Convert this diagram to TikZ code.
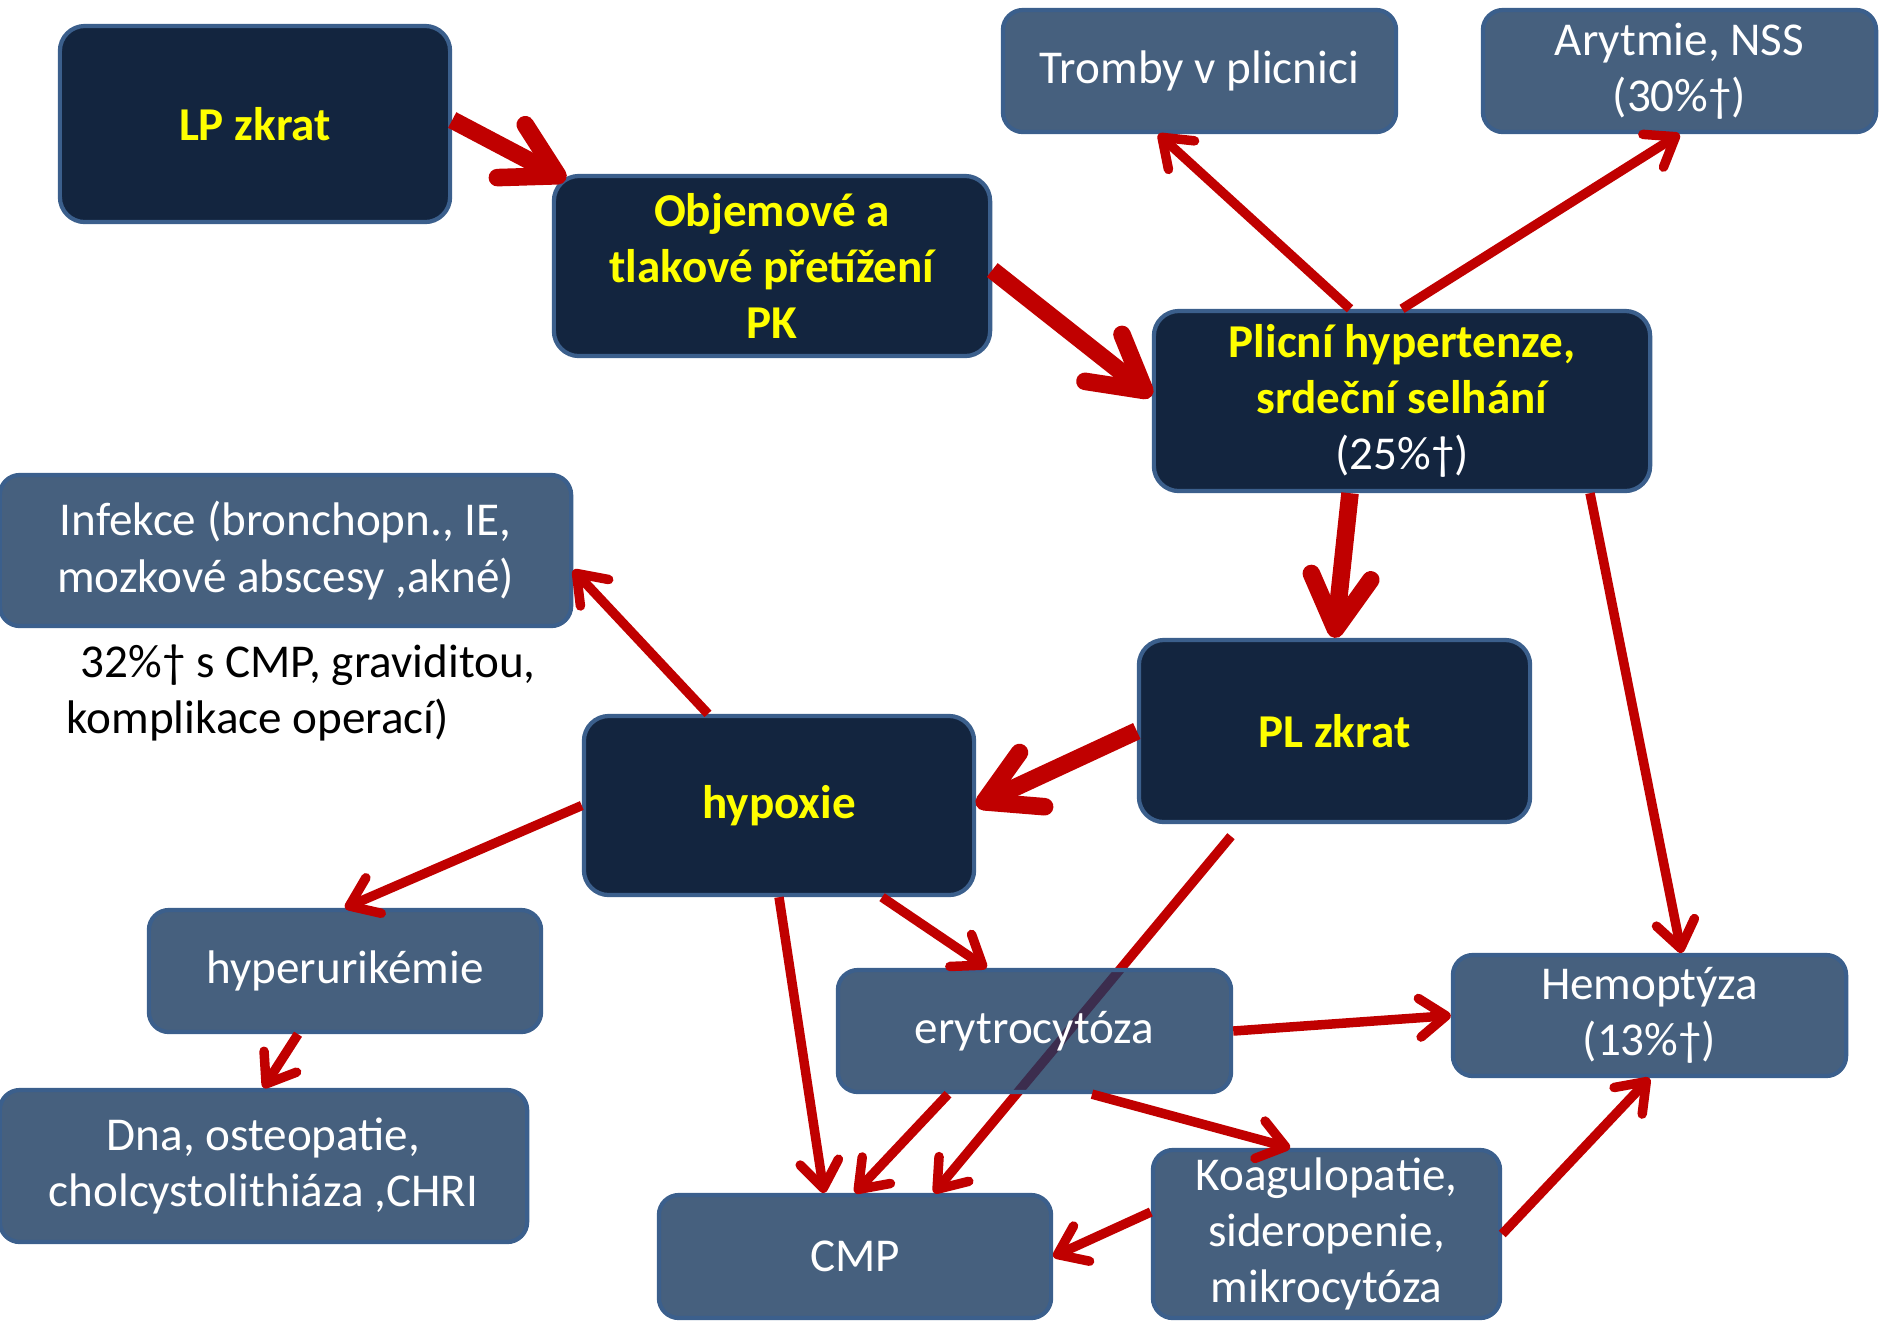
\documentclass[tikz,border=0pt]{standalone}
\usepackage{fontspec}
\setmainfont{Carlito}
\usetikzlibrary{arrows.meta,calc,positioning}

\definecolor{navybox}{HTML}{13253F}
\definecolor{slatebox}{HTML}{46607E}
\definecolor{boxedge}{HTML}{3B5F8C}
\definecolor{arrred}{HTML}{C00000}
\definecolor{crossshade}{HTML}{3C2D4E}
\definecolor{labelyellow}{HTML}{FFFF00}

\begin{document}
\begin{tikzpicture}[x=0.01cm,y=-0.01cm,
    every node/.style={font=\fontsize{13.4pt}{16pt}\selectfont, align=center, inner sep=0pt},
    dark/.style={draw=boxedge, fill=navybox, line width=1.2pt, rounded corners=0.25cm,
                 text=labelyellow, font=\fontsize{13.4pt}{16pt}\selectfont\bfseries},
    pale/.style={draw=boxedge, fill=slatebox, line width=1.2pt, rounded corners=0.2cm, text=white},
    link/.style={draw=arrred, line width=2.7pt, -{Straight Barb[round,length=7.5pt,width=11pt]}},
    mainlink/.style={draw=arrred, line width=5pt, -{Straight Barb[round,length=15pt,width=17pt]}}]

  \useasboundingbox (0,0) rectangle (1882,1326);

  % main chain
  \node[dark, minimum width=3.9cm, minimum height=1.96cm]  (lp)     at (255,124)    {LP zkrat};
  \node[dark, minimum width=4.36cm, minimum height=1.8cm]  (obj)    at (772,266)    {Objemové a\\ tlakové přetížení\\ PK};
  \node[dark, minimum width=4.96cm, minimum height=1.8cm]  (plicni) at (1402,401)   {Plicní hypertenze,\\ srdeční selhání\\ {\mdseries\color{white}(25\%†)}};
  \node[dark, minimum width=3.91cm, minimum height=1.82cm] (pl)     at (1334.5,731) {PL zkrat};
  \node[dark, minimum width=3.9cm, minimum height=1.79cm]  (hypox)  at (779,805.5)  {hypoxie};

  % consequences
  \node[pale, minimum width=3.93cm, minimum height=1.22cm] (tromby)  at (1199.5,71)   {Tromby v plicnici};
  \node[pale, minimum width=3.93cm, minimum height=1.22cm] (arytmie) at (1679.5,71)   {Arytmie, NSS\\ (30\%†)};
  \node[pale, minimum width=5.71cm, minimum height=1.51cm] (infekce) at (285.5,550.5) {Infekce (bronchopn., IE,\\ mozkové abscesy ,akné)};
  \node[align=left, anchor=west] (note) at (66,693) {\hspace{0.3em}32\%† s CMP, graviditou,\\ komplikace operací)};
  \node[pale, minimum width=3.92cm, minimum height=1.22cm] (hyper)   at (345,971)     {hyperurikémie};
  \node[pale, minimum width=5.27cm, minimum height=1.52cm] (dna)     at (263.5,1166)  {Dna, osteopatie,\\ cholcystolithiáza ,CHRI};
  \node[pale, minimum width=3.93cm, minimum height=1.21cm] (hemo)    at (1649.5,1015.5) {Hemoptýza\\ (13\%†)};
  \node[pale, minimum width=3.92cm, minimum height=1.23cm] (cmp)     at (855,1256.5)  {CMP};
  \node[pale, minimum width=3.47cm, minimum height=1.68cm] (koag)    at (1326.5,1234) {Koagulopatie,\\ sideropenie,\\ mikrocytóza};

  % this one runs under the erytrocytoza box
  \coordinate (plfoot) at ($(pl.south)+(-103.5,12)$);
  \coordinate (cmpfoot) at ($(cmp.north)+(79,0)$);
  \draw[link] (plfoot) -- (cmpfoot);

  \node[pale, minimum width=3.93cm, minimum height=1.22cm,
        path picture={\draw[crossshade, line width=2.7pt] (plfoot) -- (cmpfoot);}] (erytro) at (1034.5,1031) {erytrocytóza};

  \draw[mainlink] ($(lp.east)+(0,-4)$) -- ($(obj.north west)+(14,6)$);
  \draw[mainlink] ($(obj.east)+(0,4)$) -- ($(plicni.west)+(0,-5)$);
  \draw[mainlink] ($(plicni.south)+(-52,0)$) -- (pl.north);
  \draw[mainlink] (pl.west) -- (hypox.east);

  \draw[link] ($(plicni.north)+(-52,0)$) -- ($(tromby.south)+(-41,0)$);
  \draw[link] (plicni.north) -- (arytmie.south);
  \draw[link] ($(plicni.south)+(188,0)$) -- ($(hemo.north)+(32,0)$);
  \draw[link] ($(hypox.north)+(-71,0)$) -- ($(infekce.east)+(0,19.5)$);
  \draw[link] (hypox.west) -- (hyper.north);
  \draw[link] ($(hyper.south)+(-47,0)$) -- (dna.north);
  \draw[link] ($(hypox.south)+(103,0)$) -- ($(erytro.north)+(-48,0)$);
  \draw[link] (hypox.south) -- ($(cmp.north)+(-31,0)$);
  \draw[link] ($(erytro.south)+(-86.5,0)$) -- (cmp.north);
  \draw[link] (erytro.east) -- (hemo.west);
  \draw[link] ($(erytro.south)+(57.5,0)$) -- ($(koag.north)+(-36.5,0)$);
  \draw[link] ($(koag.west)+(0,-22)$) -- (cmp.east);
  \draw[link] (koag.east) -- (hemo.south);

\end{tikzpicture}
\end{document}
